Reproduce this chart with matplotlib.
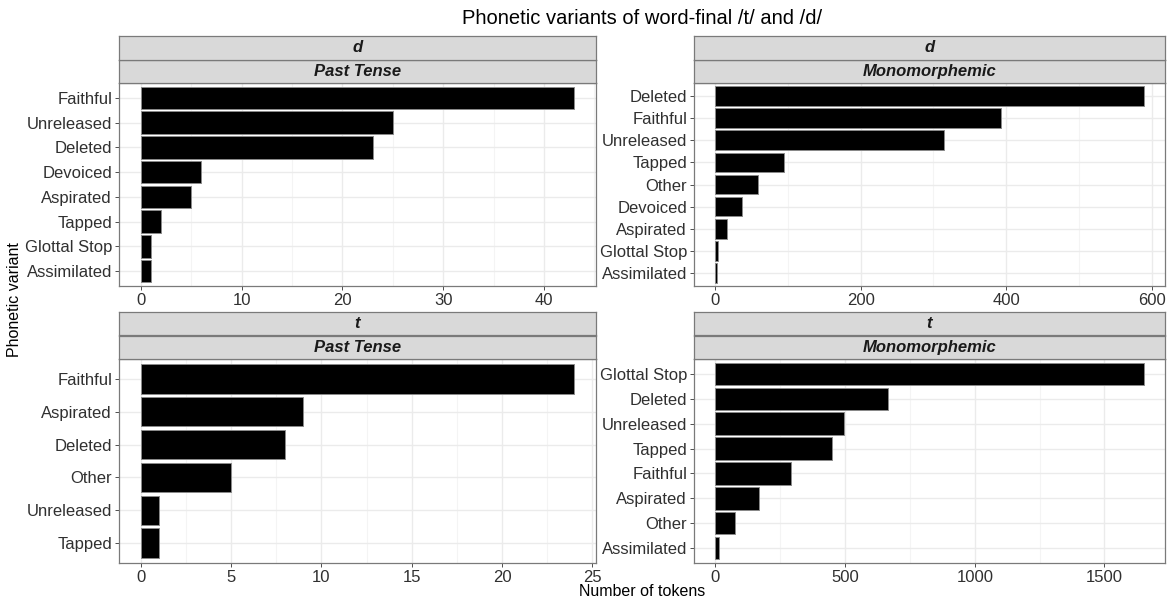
import numpy as np
import matplotlib
matplotlib.use('Agg')
import matplotlib.pyplot as plt
from matplotlib.ticker import MultipleLocator

plt.rcParams['font.family'] = ['Liberation Sans', 'DejaVu Sans']

# counts per phonetic variant, listed top to bottom as drawn
d_past_labels = ["Faithful", "Unreleased", "Deleted", "Devoiced", "Aspirated",
                 "Tapped", "Glottal Stop", "Assimilated"]
d_past_counts = [43, 25, 23, 6, 5, 2, 1, 1]

d_mono_labels = ["Deleted", "Faithful", "Unreleased", "Tapped", "Other",
                 "Devoiced", "Aspirated", "Glottal Stop", "Assimilated"]
d_mono_counts = [589, 393, 315, 95, 59, 36, 16, 4, 2]

t_past_labels = ["Faithful", "Aspirated", "Deleted", "Other", "Unreleased", "Tapped"]
t_past_counts = [24, 9, 8, 5, 1, 1]

t_mono_labels = ["Glottal Stop", "Deleted", "Unreleased", "Tapped", "Faithful",
                 "Aspirated", "Other", "Assimilated"]
t_mono_counts = [1651, 664, 495, 450, 293, 168, 76, 15]

segments = ["d", "d", "t", "t"]
morph_types = ["Past Tense", "Monomorphemic", "Past Tense", "Monomorphemic"]
major_steps = [10, 200, 5, 500]

W, H = 1167, 601
# panel boxes in pixels (left, top, right, bottom)
boxes = [(119, 83, 596, 286), (694, 83, 1165, 286),
         (119, 359, 596, 563), (694, 359, 1165, 563)]
strip_h = 23.5

GRID = '#EBEBEB'
BORDER = '#4D4D4D'
TEXT = '#303030'

fig = plt.figure(figsize=(W / 100, H / 100), dpi=100)

panel_data = [(d_past_labels, d_past_counts), (d_mono_labels, d_mono_counts),
              (t_past_labels, t_past_counts), (t_mono_labels, t_mono_counts)]

for i, (labels, counts) in enumerate(panel_data):
    l, t, r, b = boxes[i]
    ax = fig.add_axes([l / W, 1 - b / H, (r - l) / W, (b - t) / H])
    n = len(labels)
    ypos = np.arange(n)[::-1] + 1
    ax.barh(ypos, counts, height=0.9, color='black', edgecolor='#8a8a8a',
            linewidth=0.7, zorder=3)
    vmax = max(counts)
    ax.set_xlim(-0.05 * vmax, 1.05 * vmax)
    ax.set_ylim(0.4, n + 0.6)
    ax.set_yticks(ypos)
    ax.set_yticklabels(labels)
    step = major_steps[i]
    ax.xaxis.set_major_locator(MultipleLocator(step))
    ax.xaxis.set_minor_locator(MultipleLocator(step / 2))
    ax.grid(True, which='major', color=GRID, linewidth=1.0, zorder=0)
    ax.grid(True, which='minor', axis='x', color='#F4F4F4', linewidth=0.8, zorder=0)
    ax.set_axisbelow(True)
    ax.tick_params(axis='both', which='major', length=3, width=0.7, color=BORDER,
                   labelsize=12, labelcolor=TEXT, pad=2)
    ax.tick_params(axis='x', which='minor', length=0)
    for sp in ax.spines.values():
        sp.set_color('#7a7a7a')
        sp.set_linewidth(0.9)

    # two stacked facet strips: segment on top, morpheme type below
    for k, txt in enumerate([morph_types[i], segments[i]]):
        sb = t - k * strip_h
        sax = fig.add_axes([l / W, 1 - sb / H, (r - l) / W, strip_h / H])
        sax.set_facecolor('#D9D9D9')
        sax.set_xticks([])
        sax.set_yticks([])
        for sp in sax.spines.values():
            sp.set_color('#7a7a7a')
            sp.set_linewidth(0.9)
        sax.text(0.5, 0.5, txt, ha='center', va='center', fontsize=12,
                 fontweight='bold', fontstyle='italic', color='#1a1a1a',
                 transform=sax.transAxes)

fig.text(642 / W, 1 - 18 / H, "Phonetic variants of word-final /t/ and /d/",
         ha='center', va='center', fontsize=14.5, color='black')
fig.text(642 / W, 1 - 592 / H, "Number of tokens", ha='center', va='center',
         fontsize=11.5, color='black')
fig.text(15 / W, 1 - 300 / H, "Phonetic variant", ha='center', va='center',
         rotation=90, fontsize=11.5, color='black')

fig.savefig("out.png", dpi=100)
